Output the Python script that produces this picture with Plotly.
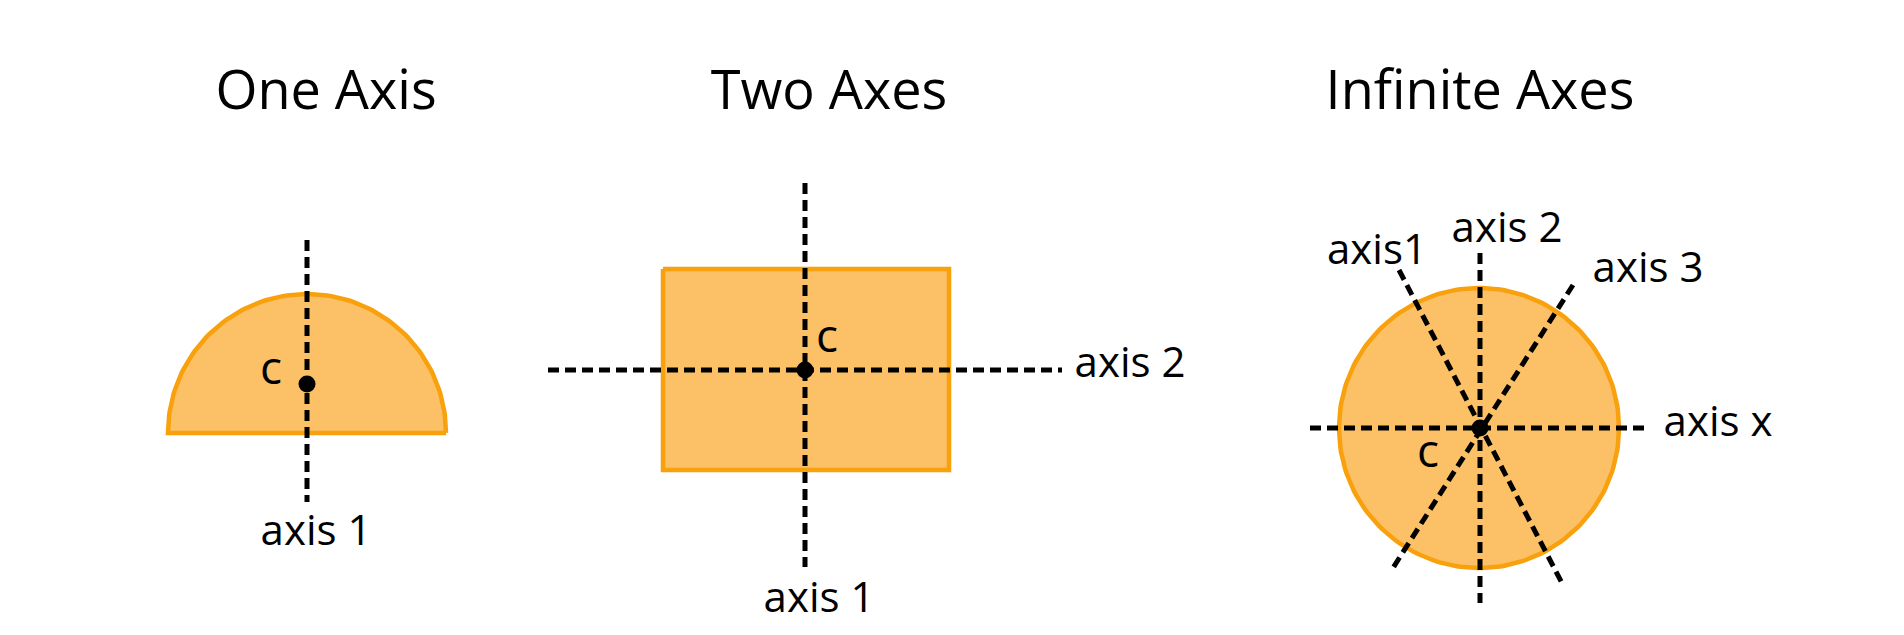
import numpy as np
import plotly.graph_objects as go

# shape geometry (pixel-like units, y grows downward)
semi_center = [299, 425]
semi_radius = 139
rect_x = [655, 941]
rect_y = [261, 462]
circle_center = [1471, 420]
circle_radius = 140

# dashed axis segments: x0, y0, x1, y1
axis_x0 = [299, 797, 540, 1302, 1472, 1391, 1565]
axis_y0 = [232, 175, 362, 420, 245, 262, 277]
axis_x1 = [299, 797, 1054, 1642, 1472, 1555, 1383]
axis_y1 = [494, 559, 362, 420, 595, 577, 563]

# centre points
dot_x = [299, 797, 1472]
dot_y = [376, 362, 420]

# text
title_text = ["One Axis", "Two Axes", "Infinite Axes"]
title_x = [318, 821, 1472]
title_y = [87, 87, 87]

label_text = ["axis 1", "axis 1", "axis 2", "axis1", "axis 2", "axis 3", "axis x"]
label_x = [308, 811, 1122, 1369, 1499, 1640, 1710]
label_y = [526, 593, 358, 245, 223, 263, 417]

c_x = [263, 819, 1420]
c_y = [364, 332, 447]

FILL = "#FCC066"
EDGE = "#F8A10C"

fig = go.Figure()

# half disc
t = np.linspace(0, np.pi, 100)
sx = semi_center[0] + semi_radius * np.cos(t)
sy = semi_center[1] - semi_radius * np.sin(t)
fig.add_trace(go.Scatter(x=list(sx) + [sx[0]], y=list(sy) + [sy[0]], mode="lines",
                         fill="toself", fillcolor=FILL, line=dict(color=EDGE, width=4.5)))

# rectangle
fig.add_trace(go.Scatter(x=[rect_x[0], rect_x[1], rect_x[1], rect_x[0], rect_x[0]],
                         y=[rect_y[0], rect_y[0], rect_y[1], rect_y[1], rect_y[0]],
                         mode="lines", fill="toself", fillcolor=FILL,
                         line=dict(color=EDGE, width=4.5)))

# full disc
a = np.linspace(0, 2 * np.pi, 200)
fig.add_trace(go.Scatter(x=circle_center[0] + circle_radius * np.cos(a),
                         y=circle_center[1] + circle_radius * np.sin(a),
                         mode="lines", fill="toself", fillcolor=FILL,
                         line=dict(color=EDGE, width=4.5)))

# dashed axes
for x0, y0, x1, y1 in zip(axis_x0, axis_y0, axis_x1, axis_y1):
    fig.add_trace(go.Scatter(x=[x0, x1], y=[y0, y1], mode="lines",
                             line=dict(color="black", width=5, dash="11px,6px")))

fig.add_trace(go.Scatter(x=dot_x, y=dot_y, mode="markers",
                         marker=dict(color="black", size=17)))

fig.add_trace(go.Scatter(x=title_x, y=title_y, text=title_text, mode="text",
                         textfont=dict(family="Open Sans", size=54, color="black")))
fig.add_trace(go.Scatter(x=label_x, y=label_y, text=label_text, mode="text",
                         textfont=dict(family="Open Sans", size=42, color="black")))
fig.add_trace(go.Scatter(x=c_x, y=c_y, text=["c"] * 3, mode="text",
                         textfont=dict(family="Open Sans", size=46, color="black")))

fig.update_layout(width=1904, height=635, margin=dict(l=0, r=0, t=0, b=0),
                  showlegend=False, plot_bgcolor="white", paper_bgcolor="white")
fig.update_xaxes(range=[0, 1904], visible=False, fixedrange=True)
fig.update_yaxes(range=[635, 0], visible=False, fixedrange=True)

fig.write_html("out.html", config={"displayModeBar": False})
